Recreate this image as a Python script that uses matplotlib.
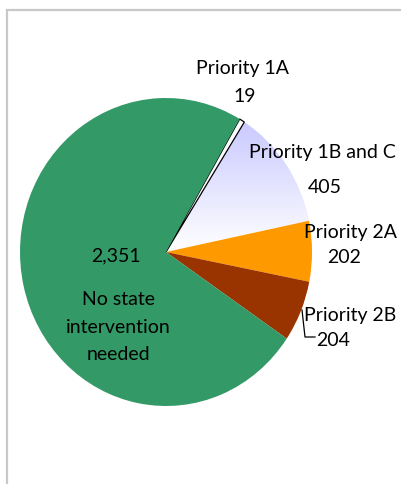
import matplotlib
matplotlib.use('Agg')

import matplotlib.pyplot as plt
import matplotlib.patches as mpatches
import numpy as np

# slice data, in clockwise order from the top
labels = ['Priority 1A', 'Priority 1B and C', 'Priority 2A', 'Priority 2B',
          'No state\nintervention\nneeded']
values = [19, 405, 202, 204, 2351]
colors = ['#ffffff', '#c8c8ff', '#ff9900', '#993300', '#339966']

W, H = 401, 484
cx, cy = 166, 252      # pie centre, pixels from top-left
rx, ry = 146, 154      # pie is drawn slightly taller than wide

fig = plt.figure(figsize=(W / 100, H / 100), dpi=100)
ax = fig.add_axes([0, 0, 1, 1])


def px(x, y):
    # pixel position -> data position
    return (x - cx) / rx, (cy - y) / ry


def set_limits():
    ax.set_xlim(-cx / rx, (W - cx) / rx)
    ax.set_ylim((cy - H) / ry, cy / ry)
    ax.set_aspect('auto')
    ax.axis('off')


wedges, _ = ax.pie(values, colors=colors, startangle=59.7, counterclock=False,
                   radius=1, center=(0, 0), frame=True,
                   wedgeprops=dict(linewidth=0))

# thin Priority 1A slice gets a black outline
wedges[0].set_edgecolor('black')
wedges[0].set_linewidth(0.9)

# vertical fade for the 1B and C slice
w = wedges[1]
w.set_facecolor('none')
grad = np.linspace(0, 1, 256)[:, None]
top = np.array([198, 198, 255]) / 255
bottom = np.array([255, 255, 255]) / 255
img = top[None, None, :] * (1 - grad[..., None]) + bottom[None, None, :] * grad[..., None]
img = np.repeat(img, 2, axis=1)
im = ax.imshow(img, extent=(0, 1.05, 0.0, 0.9), origin='upper',
               aspect='auto', zorder=w.get_zorder() - 0.1, interpolation='bilinear')
im.set_clip_path(w)
set_limits()

font = dict(family=['Lato', 'DejaVu Sans'], fontsize=14, color='black',
            ha='center', va='center')

ax.text(*px(243, 68), 'Priority 1A', **font)
ax.text(*px(245, 96), f'{values[0]:,}', **font)
ax.text(*px(322, 152), 'Priority 1B and C', **font)
ax.text(*px(325, 187), f'{values[1]:,}', **font)
ax.text(*px(351, 232), 'Priority 2A', **font)
ax.text(*px(344, 257), f'{values[2]:,}', **font)
ax.text(*px(350, 315), 'Priority 2B', **font)
ax.text(*px(333, 340), f'{values[3]:,}', **font)
ax.text(*px(116, 256), f'{values[4]:,}', **font)
ax.text(*px(118, 327), labels[4], linespacing=1.75, **font)

# leader line for 2B label
lx, ly = zip(px(302, 310), px(305, 337), px(315, 337))
ax.plot(lx, ly, color='black', lw=0.9)

# chart area border (runs off the right and bottom edges)
fig.patches.append(mpatches.Rectangle((7 / W, -0.05), 1.2, (H - 10) / H + 0.05,
                                      transform=fig.transFigure, fill=False,
                                      edgecolor='#c8c8c8', lw=1.6))

fig.savefig('out.png', dpi=100)
